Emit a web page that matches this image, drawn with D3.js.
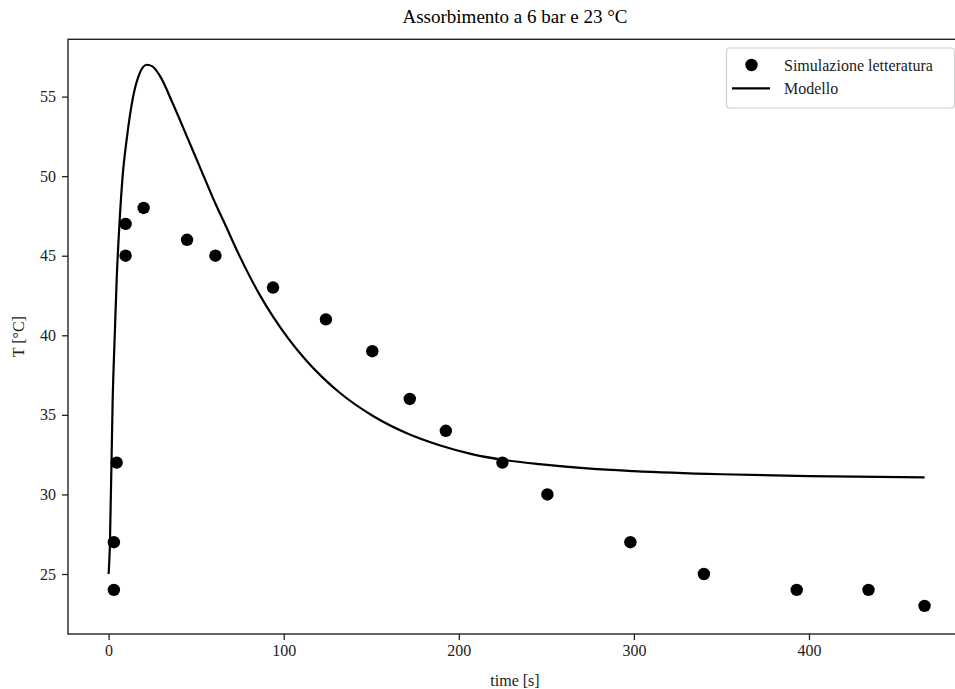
<!DOCTYPE html>
<html>
<head>
<meta charset="utf-8">
<script src="https://cdn.jsdelivr.net/npm/d3@7"></script>
<style>
  body { margin: 0; background: #fff; }
  svg { display: block; font-family: "Liberation Serif", "Times New Roman", serif; }
</style>
</head>
<body>
<svg id="chart" width="955" height="689"></svg>
<script>
// ---- data ----
const titleText = "Assorbimento a 6 bar e 23 °C";
const xLabel = "time [s]";
const yLabel = "T [°C]";
const seriesNames = ["Simulazione letteratura", "Modello"];

// literature simulation points
const simTime = [3, 3, 4.6, 9.7, 9.7, 20, 44.8, 61, 93.9, 124.1, 150.6, 172, 192.6, 224.9, 250.6, 298, 340, 393, 434, 466];
const simTemp = [24, 27, 32, 45, 47, 48, 46, 45, 43, 41, 39, 36, 34, 32, 30, 27, 25, 24, 24, 23];

// model curve
const modelTime = [0, 0.7, 2.3, 3.6, 4.6, 6.4, 8, 10.3, 14, 17.5, 21.8, 25, 29.3, 36.9, 44.5, 52, 59.7, 67, 74.9, 86.3, 93.9, 103, 113, 122, 132, 151, 170, 189, 208, 227, 246, 275, 300, 350, 400, 466];
const modelTemp = [25, 26.7, 35.9, 40.3, 43.5, 47.4, 50, 52.3, 55, 56.4, 57, 56.9, 56.3, 54.5, 52.55, 50.6, 48.6, 46.85, 44.96, 42.54, 41.17, 39.74, 38.4, 37.37, 36.39, 34.93, 33.86, 33.09, 32.52, 32.15, 31.9, 31.62, 31.47, 31.27, 31.15, 31.07];

const xTicks = [0, 100, 200, 300, 400];
const yTicks = [25, 30, 35, 40, 45, 50, 55];

// ---- layout ----
const svg = d3.select("#chart");
const mLeft = 68, mRight = 962, mTop = 39.3, mBottom = 634;

const x = d3.scaleLinear().domain([-23.2, 487.4]).range([mLeft, mRight]);
const y = d3.scaleLinear().domain([21.23, 58.6]).range([mBottom, mTop]);

// title
svg.append("text")
  .attr("x", (mLeft + mRight) / 2).attr("y", 23)
  .attr("text-anchor", "middle")
  .attr("font-size", 19)
  .attr("fill", "#000")
  .text(titleText);

// model line
const line = d3.line().x(d => x(d[0])).y(d => y(d[1])).curve(d3.curveMonotoneX);
svg.append("path")
  .datum(modelTime.map((t, i) => [t, modelTemp[i]]))
  .attr("d", line)
  .attr("fill", "none")
  .attr("stroke", "#000")
  .attr("stroke-width", 2.2);

// points
svg.append("g").selectAll("circle")
  .data(simTime.map((t, i) => [t, simTemp[i]]))
  .join("circle")
  .attr("cx", d => x(d[0]))
  .attr("cy", d => y(d[1]))
  .attr("r", 6.2)
  .attr("fill", "#000");

// axes
const xAxis = d3.axisBottom(x).tickValues(xTicks).tickSize(6).tickPadding(5).tickFormat(d3.format("d"));
const yAxis = d3.axisLeft(y).tickValues(yTicks).tickSize(6).tickPadding(6).tickFormat(d3.format("d"));

const gx = svg.append("g").attr("transform", `translate(0,${mBottom})`).call(xAxis);
const gy = svg.append("g").attr("transform", `translate(${mLeft},0)`).call(yAxis);
[gx, gy].forEach(g => {
  g.select(".domain").remove();
  g.selectAll(".tick line").attr("stroke", "#222").attr("stroke-width", 1.3);
  g.selectAll(".tick text").attr("font-size", 16).attr("fill", "#222")
    .attr("font-family", "Liberation Serif, Times New Roman, serif");
});

// frame (spines)
svg.append("rect")
  .attr("x", mLeft).attr("y", mTop)
  .attr("width", mRight - mLeft).attr("height", mBottom - mTop)
  .attr("fill", "none").attr("stroke", "#222").attr("stroke-width", 1.4);

// axis labels
svg.append("text")
  .attr("x", (mLeft + mRight) / 2).attr("y", 686)
  .attr("text-anchor", "middle").attr("font-size", 16).attr("fill", "#222")
  .text(xLabel);
svg.append("text")
  .attr("transform", `translate(24,${(mTop + mBottom) / 2}) rotate(-90)`)
  .attr("text-anchor", "middle").attr("font-size", 16).attr("fill", "#222")
  .text(yLabel);

// legend
const lg = svg.append("g");
lg.append("rect")
  .attr("x", 726.5).attr("y", 48).attr("width", 228).attr("height", 60)
  .attr("rx", 3).attr("ry", 3)
  .attr("fill", "#fff").attr("fill-opacity", 0.8)
  .attr("stroke", "#d0d0d0").attr("stroke-width", 1.2);
lg.append("circle").attr("cx", 751.5).attr("cy", 65).attr("r", 6.2).attr("fill", "#000");
lg.append("line").attr("x1", 732).attr("x2", 770).attr("y1", 88.3).attr("y2", 88.3)
  .attr("stroke", "#000").attr("stroke-width", 2.2);
lg.append("text").attr("x", 784).attr("y", 70.5).attr("font-size", 16).attr("fill", "#222").text(seriesNames[0]);
lg.append("text").attr("x", 784).attr("y", 93.5).attr("font-size", 16).attr("fill", "#222").text(seriesNames[1]);
</script>
</body>
</html>
